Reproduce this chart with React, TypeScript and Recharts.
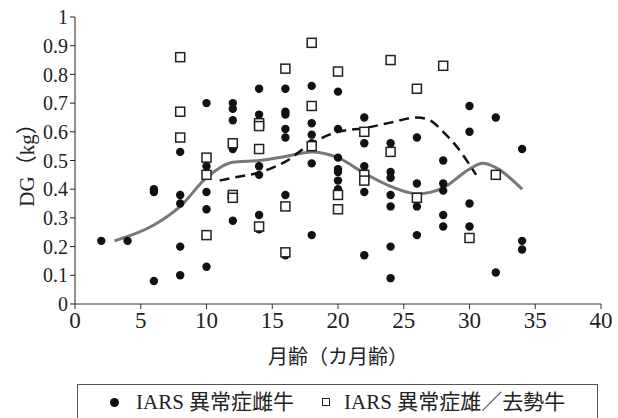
import React from 'react';
import { ComposedChart, Scatter, Line, XAxis, YAxis } from 'recharts';

// 月齢 (month), DG (kg)
const cowPoints: [number, number][] = [
  [2, 0.22], [4, 0.22],
  [6, 0.4], [6, 0.39], [6, 0.08],
  [8, 0.53], [8, 0.38], [8, 0.35], [8, 0.2], [8, 0.1],
  [10, 0.7], [10, 0.48], [10, 0.39], [10, 0.33], [10, 0.13],
  [12, 0.7], [12, 0.68], [12, 0.64], [12, 0.54], [12, 0.29],
  [14, 0.75], [14, 0.66], [14, 0.48], [14, 0.45], [14, 0.31], [14, 0.26],
  [16, 0.75], [16, 0.67], [16, 0.66], [16, 0.61], [16, 0.58], [16, 0.38], [16, 0.17],
  [18, 0.76], [18, 0.63], [18, 0.59], [18, 0.56], [18, 0.49], [18, 0.24],
  [20, 0.74], [20, 0.61], [20, 0.51], [20, 0.47], [20, 0.46], [20, 0.43], [20, 0.4],
  [22, 0.65], [22, 0.56], [22, 0.48], [22, 0.39], [22, 0.17],
  [24, 0.56], [24, 0.46], [24, 0.44], [24, 0.38], [24, 0.34], [24, 0.2], [24, 0.09],
  [26, 0.58], [26, 0.42], [26, 0.34], [26, 0.24],
  [28, 0.5], [28, 0.42], [28, 0.395], [28, 0.31], [28, 0.27],
  [30, 0.69], [30, 0.6], [30, 0.35], [30, 0.27],
  [32, 0.65], [32, 0.11],
  [34, 0.54], [34, 0.22], [34, 0.19],
];

const bullPoints: [number, number][] = [
  [8, 0.86], [8, 0.67], [8, 0.58],
  [10, 0.51], [10, 0.45], [10, 0.24],
  [12, 0.56], [12, 0.38], [12, 0.37],
  [14, 0.63], [14, 0.62], [14, 0.54], [14, 0.27],
  [16, 0.82], [16, 0.34], [16, 0.18],
  [18, 0.91], [18, 0.69], [18, 0.55],
  [20, 0.81], [20, 0.38], [20, 0.33],
  [22, 0.6], [22, 0.45], [22, 0.43],
  [24, 0.85], [24, 0.53],
  [26, 0.75], [26, 0.37],
  [28, 0.83],
  [30, 0.23],
  [32, 0.45],
];

// smoothed trend lines
const cowTrend: [number, number][] = [
  [3, 0.22], [6, 0.275], [8, 0.34], [10, 0.44], [12, 0.494], [14, 0.5], [16, 0.514],
  [18, 0.53], [20, 0.51], [22, 0.456], [24, 0.41], [26, 0.384], [28, 0.405],
  [30, 0.47], [31, 0.49], [32, 0.475], [34, 0.4],
];

const bullTrend: [number, number][] = [
  [11, 0.43], [12, 0.44], [14, 0.458], [16, 0.496], [18, 0.56], [20, 0.6], [22, 0.613],
  [24, 0.632], [26, 0.65], [27, 0.64], [28, 0.6], [29, 0.55], [30.5, 0.45],
];

const xTicks = [0, 5, 10, 15, 20, 25, 30, 35, 40];
const yTicks = [0, 0.1, 0.2, 0.3, 0.4, 0.5, 0.6, 0.7, 0.8, 0.9, 1];

const xTitle = '月齢（カ月齢）';
const yTitle = 'DG（kg）';
const cowLabel = 'IARS 異常症雌牛';
const bullLabel = 'IARS 異常症雄／去勢牛';

const toRows = (pts: [number, number][]) => pts.map(([x, y]) => ({ x, y }));

const SERIF = '"Liberation Serif", "Noto Sans CJK JP", serif';
const JP = '"Noto Sans CJK JP", "Liberation Serif", sans-serif';

const Dot = (p: any) => <circle cx={p.cx} cy={p.cy} r={4.2} fill="#111" />;
const Box = (p: any) => (
  <rect x={p.cx - 4.5} y={p.cy - 4.5} width={9} height={9} fill="#fff" stroke="#222" strokeWidth={1.5} />
);

const YTitle = () => (
  <text
    x={27}
    y={160}
    transform="rotate(-90 27 160)"
    textAnchor="middle"
    dominantBaseline="central"
    fill="#222"
    fontSize={21}
    fontFamily={SERIF}
  >
    {yTitle}
  </text>
);

export default function App() {
  return (
    <div style={{ position: 'absolute', left: 0, top: 0, width: 618, height: 418, background: '#fff', overflow: 'hidden' }}>
      <ComposedChart width={618} height={380} margin={{ top: 17, right: 17, bottom: 0, left: 0 }}>
        <XAxis
          type="number"
          dataKey="x"
          domain={[0, 40]}
          ticks={xTicks}
          height={76}
          tickSize={5}
          tickMargin={3}
          stroke="#333"
          tick={{ fill: '#222', fontSize: 23, fontFamily: SERIF }}
          label={{ value: xTitle, position: 'insideBottom', offset: 16, fill: '#222', fontSize: 20, fontFamily: JP }}
        />
        <YAxis
          type="number"
          dataKey="y"
          domain={[0, 1]}
          ticks={yTicks}
          width={75}
          tickSize={5}
          tickMargin={2}
          stroke="#222"
          tick={{ fill: '#222', fontSize: 20, fontFamily: SERIF }}
          label={YTitle}
        />
        <Scatter data={toRows(cowPoints)} dataKey="y" shape={Dot} isAnimationActive={false} />
        <Scatter data={toRows(bullPoints)} dataKey="y" shape={Box} isAnimationActive={false} />
        <Line data={toRows(cowTrend)} dataKey="y" type="monotone" stroke="#777" strokeWidth={3} dot={false} isAnimationActive={false} />
        <Line data={toRows(bullTrend)} dataKey="y" type="monotone" stroke="#111" strokeWidth={2.5} strokeDasharray="10 6" dot={false} isAnimationActive={false} />
      </ComposedChart>
      <div
        style={{
          position: 'absolute', left: 77, top: 384, width: 521, height: 60, boxSizing: 'border-box',
          border: '1px solid #555', display: 'flex', alignItems: 'center', height: 40, paddingBottom: 4,
          paddingLeft: 32, whiteSpace: 'nowrap',
          fontFamily: SERIF, fontSize: 21, color: '#222', lineHeight: '24px',
        }}
      >
        <span style={{ display: 'inline-block', width: 9, height: 9, borderRadius: 5, background: '#111', marginRight: 17 }} />
        <span>{cowLabel}</span>
        <span style={{ display: 'inline-block', width: 6, height: 6, border: '1.5px solid #222', marginLeft: 28, marginRight: 14 }} />
        <span>{bullLabel}</span>
      </div>
    </div>
  );
}
